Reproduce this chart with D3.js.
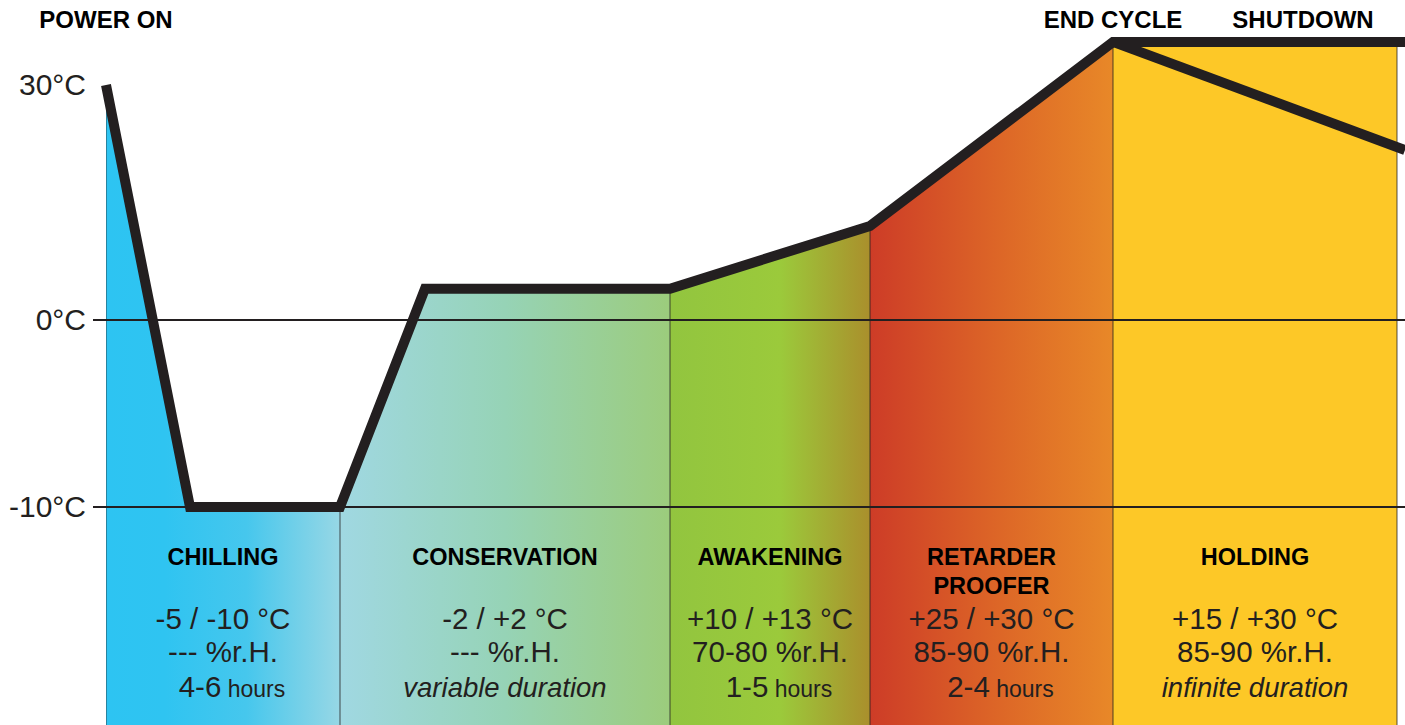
<!DOCTYPE html>
<html>
<head>
<meta charset="utf-8">
<script src="https://cdn.jsdelivr.net/npm/d3@7"></script>
<style>
  html, body { margin: 0; padding: 0; background: #fff; }
  svg { display: block; font-family: "Liberation Sans", Arial, Helvetica, sans-serif; }
</style>
</head>
<body>
<svg id="chart" width="1405" height="725"></svg>
<script>
// Dough cabinet cycle: temperature profile over the program phases (schematic time axis)

// Phases
const phaseNames = [["CHILLING"], ["CONSERVATION"], ["AWAKENING"], ["RETARDER", "PROOFER"], ["HOLDING"]];
const phaseStart = [0, 2.34, 5.64, 7.64, 10.07];
const phaseEnd   = [2.34, 5.64, 7.64, 10.07, 12.91];
const phaseTemp  = ["-5 / -10 °C", "-2 / +2 °C", "+10 / +13 °C", "+25 / +30 °C", "+15 / +30 °C"];
const phaseHumidity = ["--- %r.H.", "--- %r.H.", "70-80 %r.H.", "85-90 %r.H.", "85-90 %r.H."];
const phaseDuration = ["4-6", "variable duration", "1-5", "2-4", "infinite duration"];
const phaseDurationUnit = ["hours", "", "hours", "hours", ""];

// Temperature profile (time, °C)
const profileTime = [0, 0.84, 2.34, 3.19, 5.64, 7.64, 10.07, 12.99];
const profileTemp = [30, -10, -10, 4, 4, 12, 35.5, 35.5];

// Shutdown branch after the end of the cycle
const shutdownTime = [10.07, 12.99];
const shutdownTemp = [35.5, 21.7];

// Axis
const tempTicks = [30, 0, -10];
const gridTemps = [0, -10];

// Event markers above the profile
const eventNames = ["POWER ON", "END CYCLE", "SHUTDOWN"];
const eventTime  = [0, 10.07, 11.97];

// ---- styles ----
const ink = "#231f20";
const phaseGradients = [
  [[0, "#2dc4f2"], [0.25, "#2fc4f1"], [0.6, "#46c7ed"], [1, "#97d7e5"]],
  [[0, "#a0d8e2"], [0.5, "#96d3b6"], [1, "#9ccc7c"]],
  [[0, "#92c53f"], [0.55, "#9bca3b"], [1, "#aa8f2c"]],
  [[0, "#cd3c27"], [0.5, "#dc6427"], [1, "#e88828"]],
  [[0, "#fdc827"], [1, "#fdc827"]]
];

const W = 1405, H = 725;
const svg = d3.select("#chart");

const x = d3.scaleLinear().domain([0, 12.91]).range([106, 1397]);
const y = d3.scaleLinear().domain([-10, 0, 30]).range([507, 320, 85]);

const profile = profileTime.map((t, i) => [t, profileTemp[i]]);
const shutdown = shutdownTime.map((t, i) => [t, shutdownTemp[i]]);

const defs = svg.append("defs");

// one gradient and one clip band per phase
phaseStart.forEach((s, i) => {
  const g = defs.append("linearGradient")
    .attr("id", "grad" + i)
    .attr("gradientUnits", "userSpaceOnUse")
    .attr("x1", x(s)).attr("x2", x(phaseEnd[i]))
    .attr("y1", 0).attr("y2", 0);
  phaseGradients[i].forEach(([o, c]) => g.append("stop").attr("offset", o).attr("stop-color", c));
  defs.append("clipPath").attr("id", "band" + i)
    .append("rect")
    .attr("x", x(s)).attr("y", 0)
    .attr("width", x(phaseEnd[i]) - x(s)).attr("height", H);
});

const area = d3.area()
  .x(d => x(d[0]))
  .y0(H)
  .y1(d => y(d[1]))
  .curve(d3.curveLinear);

defs.append("clipPath").attr("id", "areaClip")
  .append("path").attr("d", area(profile));

// coloured phase fills under the profile
const fills = svg.append("g");
phaseStart.forEach((s, i) => {
  fills.append("path")
    .attr("d", area(profile))
    .attr("fill", `url(#grad${i})`)
    .attr("clip-path", `url(#band${i})`);
});

// phase dividers
const bounds = phaseStart.concat([phaseEnd[phaseEnd.length - 1]]);
svg.append("g").attr("clip-path", "url(#areaClip)")
  .selectAll("line").data(bounds).join("line")
  .attr("x1", d => x(d)).attr("x2", d => x(d))
  .attr("y1", 0).attr("y2", H)
  .attr("stroke", ink).attr("stroke-opacity", 0.6).attr("stroke-width", 1.3);

// horizontal reference lines
svg.append("g").selectAll("line").data(gridTemps).join("line")
  .attr("x1", 93).attr("x2", W)
  .attr("y1", d => y(d)).attr("y2", d => y(d))
  .attr("stroke", ink).attr("stroke-width", 2);

// temperature axis labels
const axis = svg.append("g")
  .attr("transform", "translate(93,0)")
  .call(d3.axisLeft(y).tickValues(tempTicks).tickFormat(d => d + "°C").tickSize(0).tickPadding(7));
axis.select(".domain").remove();
axis.selectAll("text")
  .attr("font-size", 30)
  .attr("font-family", "\"Liberation Sans\", Arial, sans-serif")
  .attr("fill", ink)
  .attr("dy", "0.3em");

// temperature profile line
const line = d3.line().x(d => x(d[0])).y(d => y(d[1]));
svg.append("path")
  .attr("d", line(shutdown))
  .attr("fill", "none").attr("stroke", ink).attr("stroke-width", 10)
  .attr("stroke-linejoin", "miter");
svg.append("path")
  .attr("d", line(profile))
  .attr("fill", "none").attr("stroke", ink).attr("stroke-width", 10)
  .attr("stroke-linejoin", "miter").attr("stroke-miterlimit", 10);

// event labels
svg.append("g").selectAll("text").data(eventNames).join("text")
  .attr("x", (d, i) => x(eventTime[i]))
  .attr("y", 28)
  .attr("text-anchor", "middle")
  .attr("font-size", 24).attr("font-weight", "bold")
  .attr("fill", "#000")
  .text(d => d);

// phase captions
const captions = svg.append("g");
phaseStart.forEach((s, i) => {
  const cx = (x(s) + x(phaseEnd[i])) / 2;
  phaseNames[i].forEach((nm, k) => {
    captions.append("text")
      .attr("x", cx).attr("y", 565 + k * 29)
      .attr("text-anchor", "middle")
      .attr("font-size", 23.5).attr("font-weight", "bold")
      .attr("fill", "#000")
      .text(nm);
  });
  captions.append("text")
    .attr("x", cx).attr("y", 629)
    .attr("text-anchor", "middle").attr("font-size", 29.5).attr("fill", ink)
    .text(phaseTemp[i]);
  captions.append("text")
    .attr("x", cx).attr("y", 662)
    .attr("text-anchor", "middle").attr("font-size", 29.5).attr("fill", ink)
    .text(phaseHumidity[i]);
  const dur = captions.append("text")
    .attr("y", 697)
    .attr("text-anchor", "middle").attr("fill", ink);
  if (phaseDurationUnit[i]) {
    dur.attr("x", cx + 9);
    dur.append("tspan").attr("font-size", 29.5).text(phaseDuration[i]);
    dur.append("tspan").attr("font-size", 23).text(" " + phaseDurationUnit[i]);
  } else {
    dur.attr("x", cx).attr("font-size", 27.5).attr("font-style", "italic").text(phaseDuration[i]);
  }
});
</script>
</body>
</html>
